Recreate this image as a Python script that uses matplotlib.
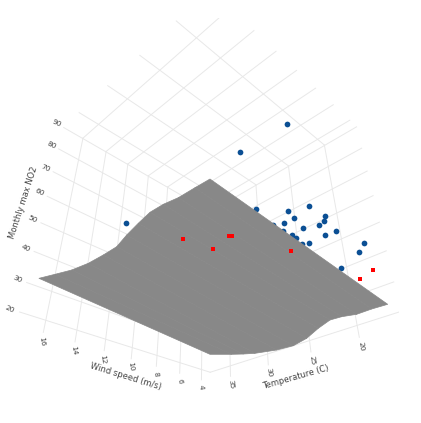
import matplotlib
matplotlib.use("Agg")
import matplotlib.pyplot as plt
from mpl_toolkits.mplot3d import proj3d
import numpy as np

plt.rcParams["font.family"] = ["DejaVu Sans"]

wind_ticks = [4, 6, 8, 10, 12, 14, 16]
temp_ticks = [20, 25, 30, 35]
no2_ticks = [20, 30, 40, 50, 60, 70, 80, 90]

# axis ranges
wind_lim = (3.157, 17.565)
temp_lim = (15.931, 37.938)
no2_lim = (21.223, 90.218)

# fitted surface, read along its two curved edges
surf_wind = [16.92, 3.157]
surf_temp_far = [37.93, 35.05, 32.33, 29.93, 27.96, 26.32, 25.23, 23.97, 22.72, 21.32, 19.80, 18.23, 16.89]
surf_no2_far = [32.48, 30.18, 28.04, 26.87, 26.57, 26.57, 28.19, 29.48, 30.51, 30.35, 29.52, 29.35, 29.13]
surf_temp_near = [37.97, 34.76, 33.15, 31.59, 28.85, 26.86, 25.28, 23.90, 22.56, 21.33, 19.85, 18.38, 16.89]
surf_no2_near = [27.64, 25.01, 23.79, 22.75, 21.56, 21.24, 22.19, 24.06, 25.38, 25.18, 24.42, 24.50, 24.32]

# points above the surface
blue_wind = [13.08, 12.85, 11.38, 8.31, 6.76, 6.27, 5.83, 4.70, 4.26, 5.90, 4.09, 4.52, 3.54, 3.68, 4.36, 3.91, 3.56, 5.18, 6.19, 3.53, 3.76, 3.56, 3.54]
blue_temp = [34.43, 19.65, 16.35, 23.95, 21.98, 20.11, 22.36, 20.02, 20.56, 23.53, 21.36, 22.84, 20.14, 21.20, 24.32, 24.37, 23.27, 24.53, 24.54, 17.58, 18.00, 20.23, 24.10]
blue_no2 = [55.2, 55.2, 63.2, 55.2, 55.2, 55.2, 55.2, 55.2, 55.2, 55.2, 55.2, 55.2, 52.2, 52.2, 55.2, 55.2, 52.2, 55.2, 55.2, 44.2, 41.2, 39.2, 53.2]

# points below the surface
red_wind = [13.38, 11.52, 11.88, 11.77, 8.40, 3.65, 3.70]
red_temp = [25.40, 24.81, 22.49, 22.33, 20.46, 18.49, 17.11]
red_no2 = [35.2, 35.2, 35.2, 35.2, 35.2, 33.2, 34.2]

W, H = 421, 423
GRID = "#e8e8e8"
TEXT = "#444444"

fig = plt.figure(figsize=(W / 100, H / 100), dpi=100)
side = 388.23
ax = fig.add_axes([10.65 / W, (H - 406.43) / H, side / W, side / H], projection="3d")
ax.computed_zorder = False
ax.set_box_aspect((0.998, 1, 0.957))
ax.view_init(elev=-35.853, azim=-134.864)
ax.set_proj_type("persp", focal_length=0.238)
ax.set_xlim(wind_lim[1], wind_lim[0])
ax.set_ylim(*temp_lim)
ax.set_zlim(*no2_lim)
ax.set_axis_off()
ax.patch.set_alpha(0)

w0, w1 = wind_lim
t0, t1 = temp_lim
z0, z1 = no2_lim
grid = dict(color=GRID, lw=0.7, zorder=1)
M = ax.get_proj()


def label(x, y, z, s, rot):
    # Text3D ignores rotation, so place the label in the 2d view
    xp, yp, _ = proj3d.proj_transform(x, y, z, M)
    ax.text2D(xp, yp, s, transform=ax.transData, rotation=rot, ha="center", va="center", fontsize=5.4, color=TEXT)


# grid on the three far faces, ticks are the verticals running on below the box
for w in wind_ticks:
    ax.plot([w, w], [t1, t1], [z0 - 3.5, z1], **grid)
    ax.plot([w, w], [t0, t1], [z1, z1], **grid)
    label(w, t1, z0 - 6, str(w), -82)
for t in temp_ticks:
    ax.plot([w0, w0], [t, t], [z0 - 3.5, z1], **grid)
    ax.plot([w0, w1], [t, t], [z1, z1], **grid)
    label(w0, t, z0 - 6, str(t), -82)
for z in no2_ticks:
    zp = max(z, z0)
    ax.plot([w0, w1], [t1, t1], [zp, zp], **grid)
    ax.plot([w0, w0], [t0, t1], [zp, zp], **grid)
    label(w1 + 0.55, t1, zp, str(z), -25)

ax.scatter(blue_wind, blue_temp, blue_no2, s=17, c="#0b4f94", marker="o", linewidths=0, depthshade=False, zorder=2)

X = np.array([[surf_wind[0]] * len(surf_temp_far), [surf_wind[1]] * len(surf_temp_near)])
Y = np.array([surf_temp_far, surf_temp_near])
Z = np.array([surf_no2_far, surf_no2_near])
ax.plot_surface(X, Y, Z, color="#888888", shade=False, linewidth=0.5, edgecolor="#888888", zorder=3)

ax.scatter(red_wind, red_temp, red_no2, s=11, c="#ff0000", marker="s", linewidths=0, depthshade=False, zorder=4)

fig.text(126 / W, 1 - 377 / H, "Wind speed (m/s)", rotation=-17, ha="center", va="center", fontsize=6.0, color=TEXT)
fig.text(296 / W, 1 - 377 / H, "Temperature (C)", rotation=16, ha="center", va="center", fontsize=6.0, color=TEXT)
fig.text(23 / W, 1 - 203 / H, "Monthly max NO2", rotation=72, ha="center", va="center", fontsize=6.0, color=TEXT)

fig.savefig("out.png", dpi=100)
